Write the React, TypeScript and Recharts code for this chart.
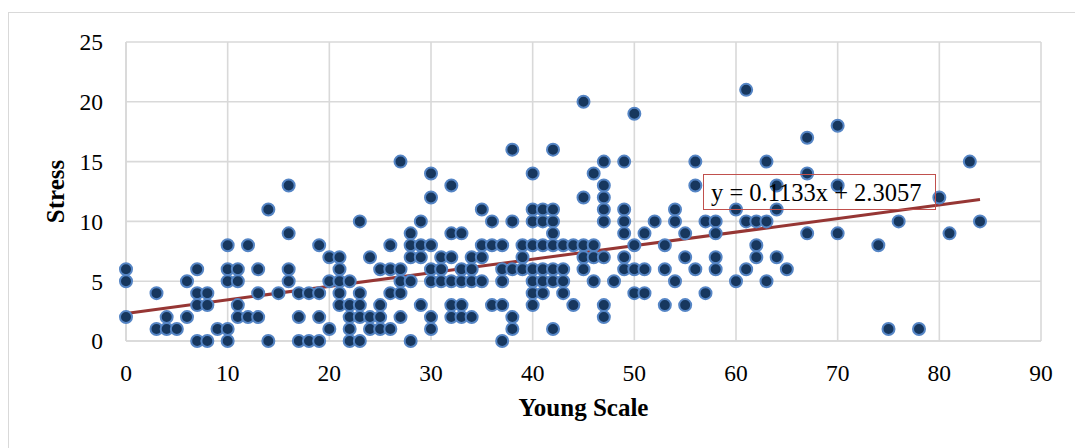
import React from 'react';
import {
  ScatterChart, Scatter, XAxis, YAxis, CartesianGrid, ReferenceLine, Label,
} from 'recharts';

// Young Scale values, and the Stress scores observed at each of them
const youngScale = [
  0, 3, 4, 5, 6, 7, 8, 9, 10, 11, 12, 13, 14, 15, 16, 17, 18, 19, 20, 21,
  22, 23, 24, 25, 26, 27, 28, 29, 30, 31, 32, 33, 34, 35, 36, 37, 38, 39, 40, 41,
  42, 43, 44, 45, 46, 47, 48, 49, 50, 51, 52, 53, 54, 55, 56, 57, 58, 60, 61, 62,
  63, 64, 65, 67, 70, 74, 75, 76, 78, 80, 81, 83, 84,
];

const stressByScale = [
  [6, 5, 2], [4, 1], [2, 1], [1], [5, 2], [6, 4, 3, 0], [4, 3, 0], [1], [8, 6, 5, 1, 0], [6, 5, 3, 2],
  [8, 2], [6, 4, 2], [11, 0], [4], [13, 9, 6, 5], [4, 2, 0], [4, 0], [8, 4, 2, 0], [7, 5, 1], [7, 6, 5, 4, 3],
  [5, 3, 2, 1, 0], [10, 4, 3, 2, 0], [7, 2, 1], [6, 3, 2, 1], [8, 6, 4, 1], [15, 6, 5, 4, 2], [9, 8, 7, 5, 0], [10, 8, 7, 3], [14, 12, 8, 6, 5, 2, 1], [7, 6, 5],
  [13, 9, 7, 5, 3, 2], [9, 6, 5, 3, 2], [7, 6, 5, 2], [11, 8, 7, 5], [10, 8, 3], [8, 6, 5, 3, 0], [16, 10, 6, 2, 1], [8, 7, 6], [14, 11, 10, 8, 6, 5, 4, 3], [11, 10, 8, 6, 5, 4],
  [16, 11, 10, 9, 8, 6, 5, 1], [8, 6, 5, 4], [8, 3], [20, 12, 8, 7, 6], [14, 8, 7, 5], [15, 13, 12, 11, 10, 7, 3, 2], [5], [15, 11, 10, 9, 7, 6], [19, 8, 6, 4], [9, 6, 4],
  [10], [8, 6, 3], [11, 10, 5], [9, 7, 3], [15, 13, 6], [10, 4], [10, 9, 7, 6], [11, 5], [21, 10, 6], [10, 8, 7],
  [15, 10, 5], [13, 11, 7], [6], [17, 14, 9], [18, 13, 9], [8], [1], [10], [1], [12],
  [9], [15], [10],
];

const xTicks = [0, 10, 20, 30, 40, 50, 60, 70, 80, 90];
const yTicks = [0, 5, 10, 15, 20, 25];

// linear trendline as printed on the chart
const trendSlope = 0.1133;
const trendIntercept = 2.3057;
const trendLabel = 'y = 0.1133x + 2.3057';

const points = youngScale.flatMap((x, i) => stressByScale[i].map((y) => ({ x, y })));
const xMin = Math.min(...youngScale);
const xMax = Math.max(...youngScale);

const FONT = '"Liberation Serif", "Times New Roman", serif';
const GRID = '#D9D9D9';

const Dot = (props: any) => (
  <circle cx={props.cx} cy={props.cy} r={6} fill="#17375E" stroke="#5585C5" strokeWidth={2} />
);

export default function App() {
  return (
    <div style={{ position: 'relative', width: 1075, height: 448, overflow: 'hidden', fontFamily: FONT }}>
      <style>{'body{margin:0;overflow:hidden}'}</style>
      <div
        style={{
          position: 'absolute', left: 8, top: 12, width: 1067, height: 436,
          borderTop: `1px solid ${GRID}`, borderLeft: `1px solid ${GRID}`,
        }}
      >
        <ScatterChart width={1060} height={420} margin={{ top: 29, right: 28, bottom: 12, left: 0 }}>
          <CartesianGrid stroke={GRID} strokeWidth={1.6} />
          <XAxis
            type="number"
            dataKey="x"
            domain={[0, 90]}
            ticks={xTicks}
            interval={0}
            height={80}
            tickLine={false}
            axisLine={{ stroke: GRID, strokeWidth: 1.6 }}
            tickMargin={17}
            tick={{ fontSize: 23.5, fill: '#000', fontFamily: FONT }}
          >
            <Label
              content={({ viewBox }: any) => (
                <text
                  x={viewBox.x + viewBox.width / 2}
                  y={viewBox.y + 75}
                  textAnchor="middle"
                  fontSize={25}
                  fontWeight="bold"
                  fontFamily={FONT}
                  fill="#000"
                >
                  Young Scale
                </text>
              )}
            />
          </XAxis>
          <YAxis
            type="number"
            dataKey="y"
            domain={[0, 25]}
            ticks={yTicks}
            interval={0}
            width={117}
            tickLine={false}
            axisLine={{ stroke: GRID, strokeWidth: 1.6 }}
            tickMargin={17}
            tick={{ fontSize: 23.5, fill: '#000', fontFamily: FONT }}
          >
            <Label
              content={({ viewBox }: any) => {
                const cx = viewBox.x + 46;
                const cy = viewBox.y + viewBox.height / 2;
                return (
                  <text
                    x={cx}
                    y={cy}
                    transform={`rotate(-90, ${cx}, ${cy})`}
                    textAnchor="middle"
                    dominantBaseline="central"
                    fontSize={25}
                    fontWeight="bold"
                    fontFamily={FONT}
                    fill="#000"
                  >
                    Stress
                  </text>
                );
              }}
            />
          </YAxis>
          <Scatter data={points} shape={Dot} isAnimationActive={false} />
          <ReferenceLine
            segment={[
              { x: xMin, y: trendIntercept + trendSlope * xMin },
              { x: xMax, y: trendIntercept + trendSlope * xMax },
            ]}
            stroke="#963634"
            strokeWidth={3}
          />
        </ScatterChart>
      </div>
      <div
        style={{
          position: 'absolute', left: 703, top: 174, width: 224, height: 34,
          border: '1.5px solid #C0504D', fontSize: 24.5, lineHeight: '36px',
          paddingLeft: 7, boxSizing: 'content-box', color: '#000', whiteSpace: 'nowrap',
        }}
      >
        {trendLabel}
      </div>
    </div>
  );
}
